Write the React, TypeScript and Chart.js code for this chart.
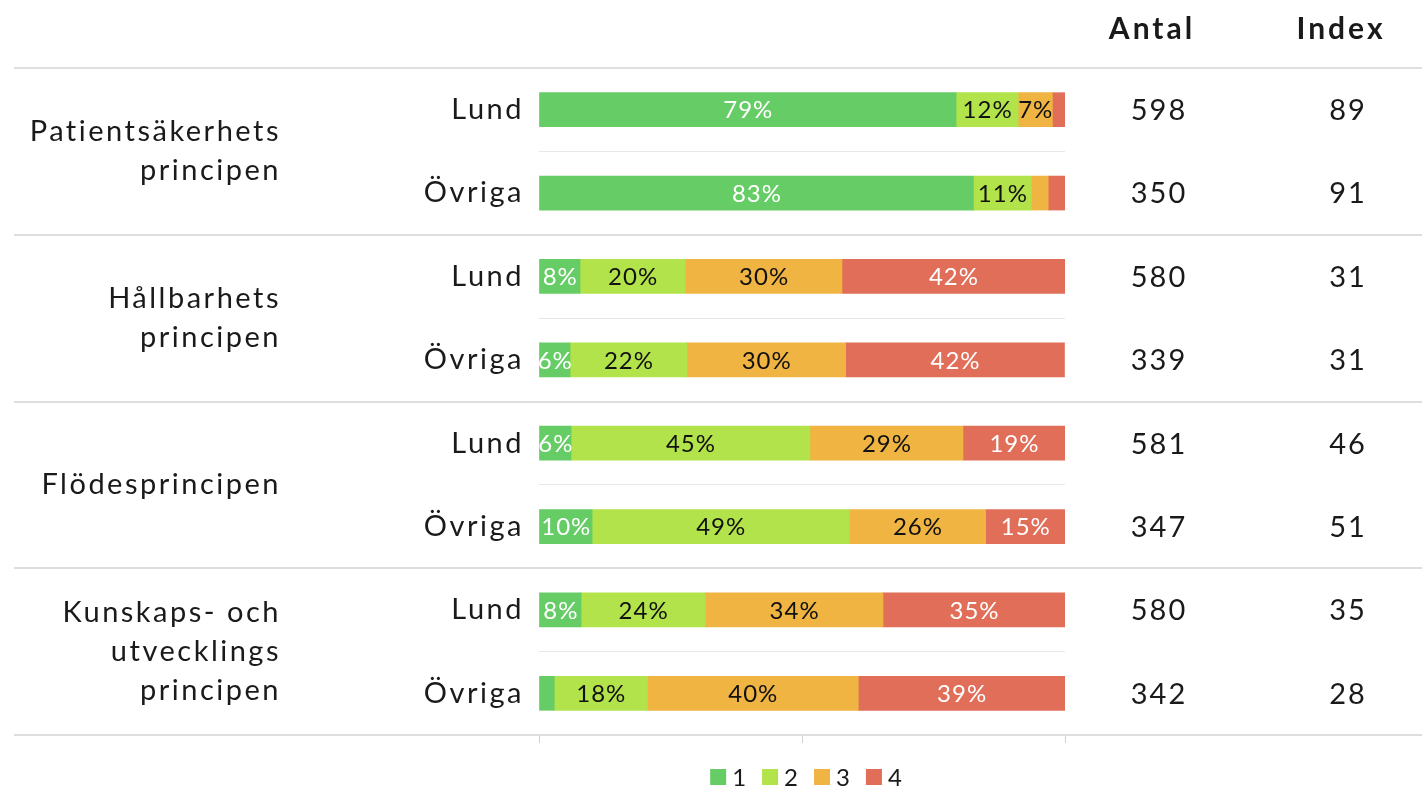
import React, { useEffect, useRef } from "react";
import { Chart, registerables } from "chart.js";

Chart.register(...registerables);

const rowLabels = ["Lund", "Övriga", "Lund", "Övriga", "Lund", "Övriga", "Lund", "Övriga"];
const groupLabels = [
  ["Patientsäkerhets", "principen"],
  ["Hållbarhets", "principen"],
  ["Flödesprincipen"],
  ["Kunskaps- och", "utvecklings", "principen"],
];
const seriesNames = ["1", "2", "3", "4"];
const s1 = [79.3, 82.6, 7.8, 5.9, 6.1, 10.1, 8.0, 2.9];
const s2 = [11.8, 11.0, 20.0, 22.2, 45.4, 48.9, 23.6, 17.7];
const s3 = [6.5, 3.2, 29.8, 30.2, 29.1, 25.9, 33.8, 40.1];
const s4 = [2.4, 3.2, 42.4, 41.6, 19.4, 15.1, 34.6, 39.3];
const antal = [598, 350, 580, 339, 581, 347, 580, 342];
const indexValues = [89, 91, 31, 31, 46, 51, 35, 28];
const columnHeaders = ["Antal", "Index"];
const xTicks = [0, 50, 100];

const colors = ["#66cc66", "#b3e34b", "#f0b443", "#e06e58"];
const labelColors = ["#ffffff", "#111111", "#111111", "#ffffff"];
const FONT = "Lato, 'Noto Sans', sans-serif";
const TEXT = "#1a1a1a";

const setSpacing = (ctx: any, px: number) => {
  if ("letterSpacing" in ctx) ctx.letterSpacing = px + "px";
};

const overlay = {
  id: "overlay",
  beforeDraw(chart: any) {
    setSpacing(chart.ctx, 2.5);
  },
  afterDatasetsDraw(chart: any) {
    const ctx = chart.ctx;
    ctx.save();
    setSpacing(ctx, 1);
    ctx.font = `24px ${FONT}`;
    ctx.textAlign = "center";
    ctx.textBaseline = "middle";
    chart.data.datasets.forEach((ds: any, di: number) => {
      const meta = chart.getDatasetMeta(di);
      meta.data.forEach((el: any, i: number) => {
        const v = ds.data[i];
        if (v < 5) return;
        const p = el.getProps(["x", "base", "y"], true);
        ctx.fillStyle = labelColors[di];
        ctx.fillText(Math.round(v) + "%", (p.x + p.base) / 2 + 0.5, p.y + 1);
      });
    });
    ctx.restore();
  },
  afterDraw(chart: any) {
    const ctx = chart.ctx;
    const ys = chart.scales.y;
    const band = ys.getPixelForValue(1) - ys.getPixelForValue(0);
    ctx.save();
    // group separators
    ctx.strokeStyle = "#dedede";
    ctx.lineWidth = 2;
    for (let g = 0; g <= groupLabels.length; g++) {
      const y = Math.round(ys.getPixelForValue(g * 2) - band / 2);
      ctx.beginPath();
      ctx.moveTo(14, y);
      ctx.lineTo(1422, y);
      ctx.stroke();
    }
    // group labels
    ctx.fillStyle = TEXT;
    setSpacing(ctx, 2.5);
    ctx.font = `29px ${FONT}`;
    ctx.textAlign = "right";
    ctx.textBaseline = "middle";
    groupLabels.forEach((lines, g) => {
      const cy = (ys.getPixelForValue(g * 2) + ys.getPixelForValue(g * 2 + 1)) / 2;
      const lh = 39;
      lines.forEach((t, k) => {
        ctx.fillText(t, 281, cy + (k - (lines.length - 1) / 2) * lh);
      });
    });
    // columns
    ctx.textAlign = "center";
    setSpacing(ctx, 3);
    ctx.font = `bold 30px ${FONT}`;
    ctx.fillText(columnHeaders[0], 1152, 29);
    ctx.fillText(columnHeaders[1], 1341, 29);
    setSpacing(ctx, 2);
    ctx.font = `29px ${FONT}`;
    rowLabels.forEach((_, i) => {
      const y = ys.getPixelForValue(i) + 1;
      ctx.fillText(String(antal[i]), 1159, y);
      ctx.fillText(String(indexValues[i]), 1348, y);
    });
    // legend
    setSpacing(ctx, 0);
    ctx.font = `24px ${FONT}`;
    ctx.textAlign = "left";
    const box = 16, gap = 6, spacing = 16;
    const widths = seriesNames.map((n) => box + gap + ctx.measureText(n).width);
    const total = widths.reduce((a, b) => a + b, 0) + spacing * (widths.length - 1);
    let x = 806 - total / 2;
    const ly = 777;
    seriesNames.forEach((n, i) => {
      ctx.fillStyle = colors[i];
      ctx.fillRect(x, ly - box / 2, box, box);
      ctx.fillStyle = TEXT;
      ctx.fillText(n, x + box + gap, ly + 1);
      x += widths[i] + spacing;
    });
    ctx.restore();
  },
};

export default function App() {
  const ref = useRef<HTMLCanvasElement>(null);
  useEffect(() => {
    document.body.style.margin = "0";
    const chart = new Chart(ref.current!, {
      type: "bar",
      data: {
        labels: rowLabels,
        datasets: [s1, s2, s3, s4].map((d, i) => ({
          label: seriesNames[i],
          data: d,
          backgroundColor: colors[i],
          borderWidth: 0,
          barThickness: 34,
        })),
      },
      options: {
        indexAxis: "y",
        responsive: false,
        animation: false,
        layout: { padding: { top: 68, bottom: 45, left: 0, right: 357 } },
        plugins: { legend: { display: false }, tooltip: { enabled: false } },
        scales: {
          x: {
            stacked: true,
            min: 0,
            max: 100,
            afterBuildTicks: (s: any) => {
              s.ticks = xTicks.map((v) => ({ value: v }));
            },
            ticks: { display: false },
            grid: { drawOnChartArea: false, drawTicks: true, tickLength: 8, color: "#d0d0d0" },
            border: { display: false },
          },
          y: {
            stacked: true,
            afterFit: (s: any) => {
              s.width = 539;
            },
            ticks: { color: TEXT, font: { family: FONT, size: 29 }, padding: 15 },
            grid: { color: "#e8e8e8", drawTicks: false, offset: true },
            border: { display: false },
          },
        },
      },
      plugins: [overlay],
    } as any);
    return () => chart.destroy();
  }, []);
  return (
    <div style={{ position: "fixed", left: 0, top: 0, width: 1422, height: 788 }}>
      <canvas ref={ref} width={1422} height={788} />
    </div>
  );
}
